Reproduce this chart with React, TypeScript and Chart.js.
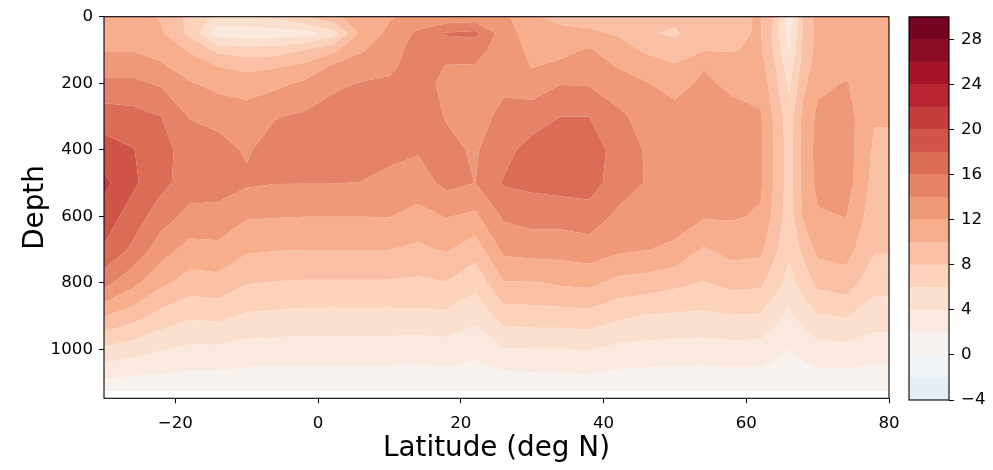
import React, { useEffect, useRef } from 'react';
import { Chart, registerables } from 'chart.js';

Chart.register(...registerables);

// ---------------- data ----------------
const LATITUDES = [-30, -26, -22, -18, -14, -10, -6, -2, 2, 6, 10, 14, 18, 22, 26, 30, 34, 38, 42, 46, 50, 54, 58, 62, 64, 66, 68, 70, 74, 78, 82];
const DEPTHS = [0, 50, 100, 150, 200, 300, 400, 500, 600, 700, 800, 900, 1000, 1125];

// one row per depth level, one value per latitude
const T_0000 = [10.8, 10.8, 9.8, 7.5, 5.5, 5.5, 6.5, 8.0, 9.5, 11.0, 11.8, 12.6, 12.6, 12.8, 12.5, 10.2, 9.6, 9.3, 9.0, 8.5, 8.8, 9.4, 9.5, 10.2, 7.8, 2.5, 8.5, 10.8, 10.8, 11.0, 11.0];
const T_0050 = [11.4, 11.3, 10.3, 7.5, 3.0, 3.0, 3.0, 3.2, 5.0, 10.5, 12.5, 14.4, 16.2, 16.5, 13.0, 11.0, 10.4, 10.3, 9.8, 8.3, 7.6, 9.6, 9.6, 10.2, 7.4, 3.2, 8.3, 10.6, 10.9, 11.0, 11.0];
const T_0100 = [11.9, 11.9, 11.3, 9.8, 7.5, 6.8, 7.0, 8.0, 9.5, 11.8, 13.0, 15.0, 14.8, 14.6, 13.2, 11.5, 11.4, 12.2, 10.9, 9.7, 9.2, 9.9, 9.9, 10.3, 7.6, 3.9, 8.6, 10.7, 11.0, 11.2, 11.2];
const T_0150 = [13.1, 13.1, 12.3, 11.0, 10.0, 9.5, 9.8, 10.5, 12.3, 12.9, 13.6, 15.0, 13.9, 13.9, 13.5, 11.9, 12.5, 13.0, 11.9, 11.0, 10.2, 11.9, 10.7, 10.8, 8.2, 4.8, 9.0, 11.0, 11.4, 11.2, 11.2];
const T_0200 = [14.5, 14.5, 13.7, 12.2, 11.3, 11.0, 11.5, 12.3, 13.6, 14.1, 14.3, 14.8, 13.5, 13.3, 13.7, 13.2, 13.9, 13.8, 13.0, 12.1, 11.2, 12.4, 11.5, 11.3, 8.7, 5.6, 9.5, 11.6, 12.1, 11.0, 11.0];
const T_0300 = [17.0, 16.7, 16.0, 13.9, 13.5, 13.0, 13.9, 14.3, 14.8, 15.2, 15.0, 14.8, 13.9, 13.4, 14.4, 14.8, 16.0, 16.0, 14.4, 13.3, 12.8, 13.0, 12.8, 12.2, 9.6, 6.8, 10.6, 12.4, 12.8, 10.2, 10.2];
const T_0400 = [18.9, 18.1, 16.8, 15.0, 14.6, 13.8, 14.8, 15.0, 15.2, 15.3, 14.5, 14.2, 14.4, 13.8, 15.2, 17.0, 17.2, 17.0, 15.3, 13.8, 13.3, 13.2, 13.1, 12.4, 9.8, 7.1, 10.8, 12.6, 13.0, 9.6, 9.6];
const T_0500 = [20.5, 18.4, 16.6, 15.0, 14.9, 14.3, 14.05, 14.05, 14.05, 13.95, 13.5, 13.0, 14.6, 13.98, 16.2, 16.5, 16.8, 16.9, 15.0, 13.9, 13.3, 13.2, 13.1, 12.3, 9.7, 7.1, 10.7, 12.5, 12.9, 9.2, 9.2];
const T_0600 = [19.1, 17.1, 14.9, 13.4, 13.3, 12.2, 12.1, 12.02, 12.02, 12.02, 12.05, 11.4, 12.1, 11.6, 14.3, 14.8, 14.8, 15.1, 13.6, 13.0, 12.7, 12.2, 12.2, 11.8, 9.4, 6.9, 10.3, 11.8, 12.05, 8.8, 8.8];
const T_0700 = [17.8, 15.6, 12.9, 11.3, 11.5, 10.3, 10.1, 10.02, 10.02, 10.02, 10.02, 9.6, 10.2, 8.9, 12.5, 12.8, 12.8, 13.1, 12.4, 12.05, 11.7, 9.8, 10.7, 10.5, 8.45, 6.4, 8.5, 10.6, 10.8, 8.2, 8.2];
const T_0800 = [14.7, 12.6, 10.5, 9.1, 9.3, 8.1, 7.9, 7.8, 7.8, 7.8, 7.8, 7.6, 7.9, 6.6, 9.9, 9.8, 10.3, 10.5, 9.4, 9.1, 8.5, 7.9, 8.6, 8.4, 6.85, 5.3, 6.9, 8.5, 9.1, 6.6, 6.6];
const T_0900 = [10.1, 8.9, 7.3, 6.3, 6.5, 5.7, 5.6, 5.4, 5.4, 5.4, 5.4, 5.5, 5.5, 4.6, 6.9, 7.1, 7.1, 7.3, 6.4, 5.9, 5.7, 5.6, 5.9, 5.8, 4.7, 3.6, 4.75, 5.9, 6.1, 5.1, 5.1];
const T_1000 = [5.6, 4.9, 4.1, 3.6, 3.6, 3.2, 3.1, 3.05, 3.05, 3.05, 3.05, 2.9, 3.1, 2.6, 3.9, 3.95, 3.95, 4.1, 3.5, 3.3, 3.2, 3.05, 3.3, 3.2, 2.6, 1.98, 2.64, 3.3, 3.4, 2.8, 2.8];
const T_1125 = [0.6, 0.4, 0.5, 0.5, 0.5, 0.4, 0.4, 0.4, 0.4, 0.4, 0.4, 0.4, 0.5, 0.3, 0.3, 0.4, 0.5, 0.5, 0.4, 0.3, 0.3, 0.3, 0.3, 0.4, 0.45, 0.5, 0.45, 0.4, 0.4, 0.5, 0.5];

const FIELD = [T_0000, T_0050, T_0100, T_0150, T_0200, T_0300, T_0400, T_0500, T_0600, T_0700, T_0800, T_0900, T_1000, T_1125];

const LEVELS = [-4, -2, 0, 2, 4, 6, 8, 10, 12, 14, 16, 18, 20, 22, 24, 26, 28, 30];
const X_TICKS = [-20, 0, 20, 40, 60, 80];
const Y_TICKS = [0, 200, 400, 600, 800, 1000];
const CB_TICKS = [-4, 0, 4, 8, 12, 16, 20, 24, 28];

// ---------------- colours (RdBu_r, centred norm) ----------------
const RDBU = ['#053061', '#2166ac', '#4393c3', '#92c5de', '#d1e5f0', '#f7f7f7', '#fddbc7', '#f4a582', '#d6604d', '#b2182b', '#67001f'];
const NORM_MIN = -30;
const NORM_MAX = 30;
function hexRgb(h: string) {
  return [parseInt(h.slice(1, 3), 16), parseInt(h.slice(3, 5), 16), parseInt(h.slice(5, 7), 16)];
}
function rdbuR(t: number) {
  const tt = Math.max(0, Math.min(1, t));
  const p = tt * 10;
  const i = Math.min(9, Math.floor(p));
  const f = p - i;
  const a = hexRgb(RDBU[i]);
  const b = hexRgb(RDBU[i + 1]);
  const c = a.map((av, k) => Math.round(av + (b[k] - av) * f));
  return `rgb(${c[0]},${c[1]},${c[2]})`;
}
const BANDS = LEVELS.slice(0, -1).map((lo, k) => {
  const hi = LEVELS[k + 1];
  return { lo, hi, color: rdbuR(((lo + hi) / 2 - NORM_MIN) / (NORM_MAX - NORM_MIN)) };
});

const FONT = 'DejaVu Sans';
const fmt = (v: any) => {
  const n = Number(v);
  return n < 0 ? '\u2212' + Math.abs(n) : String(n);
};

// ---------------- contour plugin ----------------
function clipPoly(poly: any[], level: number, above: boolean) {
  const out: any[] = [];
  const n = poly.length;
  for (let k = 0; k < n; k++) {
    const a = poly[k];
    const b = poly[(k + 1) % n];
    const ina = above ? a.v >= level : a.v <= level;
    const inb = above ? b.v >= level : b.v <= level;
    if (ina) out.push(a);
    if (ina !== inb) {
      const t = (level - a.v) / (b.v - a.v);
      out.push({ x: a.x + t * (b.x - a.x), y: a.y + t * (b.y - a.y), v: level });
    }
  }
  return out;
}

const contourPlugin = {
  id: 'contourf',
  beforeDatasetsDraw(chart: any) {
    const { ctx, chartArea, scales } = chart;
    const xs = LATITUDES.map((v) => scales.x.getPixelForValue(v));
    const ys = DEPTHS.map((v) => scales.y.getPixelForValue(v));
    ctx.save();
    ctx.beginPath();
    ctx.rect(chartArea.left, chartArea.top, chartArea.right - chartArea.left, chartArea.bottom - chartArea.top);
    ctx.clip();
    for (const band of BANDS) {
      ctx.beginPath();
      let any = false;
      for (let j = 0; j < DEPTHS.length - 1; j++) {
        for (let i = 0; i < LATITUDES.length - 1; i++) {
          const quad = [
            { x: xs[i], y: ys[j], v: FIELD[j][i] },
            { x: xs[i + 1], y: ys[j], v: FIELD[j][i + 1] },
            { x: xs[i + 1], y: ys[j + 1], v: FIELD[j + 1][i + 1] },
            { x: xs[i], y: ys[j + 1], v: FIELD[j + 1][i] },
          ];
          let p = clipPoly(quad, band.lo, true);
          if (p.length < 3) continue;
          p = clipPoly(p, band.hi, false);
          if (p.length < 3) continue;
          ctx.moveTo(p[0].x, p[0].y);
          for (let k = 1; k < p.length; k++) ctx.lineTo(p[k].x, p[k].y);
          ctx.closePath();
          any = true;
        }
      }
      if (any) {
        ctx.fillStyle = band.color;
        ctx.fill();
      }
    }
    ctx.restore();
  },
};

const framePlugin = {
  id: 'frame',
  afterDraw(chart: any) {
    const { ctx, chartArea } = chart;
    ctx.save();
    ctx.strokeStyle = '#000';
    ctx.lineWidth = 1.1;
    ctx.strokeRect(chartArea.left, chartArea.top, chartArea.right - chartArea.left, chartArea.bottom - chartArea.top);
    ctx.restore();
  },
};

export default function App() {
  const mainRef = useRef<HTMLCanvasElement>(null);
  const barRef = useRef<HTMLCanvasElement>(null);

  useEffect(() => {
    const tickFont = { family: FONT, size: 16.67 };
    const main = new Chart(mainRef.current as HTMLCanvasElement, {
      type: 'scatter',
      data: { datasets: [{ data: [], pointRadius: 0 }] },
      options: {
        responsive: false,
        animation: false,
        devicePixelRatio: 1,
        layout: { padding: { top: 16.7, right: 16, left: 0, bottom: 0 } },
        plugins: { legend: { display: false }, tooltip: { enabled: false } },
        scales: {
          x: {
            type: 'linear',
            min: -30,
            max: 80,
            afterBuildTicks: (s: any) => {
              s.ticks = X_TICKS.map((v) => ({ value: v }));
            },
            afterFit: (s: any) => {
              s.height = 71.7;
              s.paddingLeft = 0;
              s.paddingRight = 0;
            },
            grid: { drawOnChartArea: false, drawTicks: true, tickLength: 5, color: '#000', lineWidth: 1 },
            border: { display: false },
            ticks: { color: '#000', font: tickFont, padding: 10, maxRotation: 0, autoSkip: false, callback: fmt },
            title: { display: true, text: 'Latitude (deg N)', color: '#000', font: { family: FONT, size: 27.8 }, padding: { top: 0, bottom: 5 } },
          },
          y: {
            type: 'linear',
            reverse: true,
            min: 0,
            max: 1147,
            afterBuildTicks: (s: any) => {
              s.ticks = Y_TICKS.map((v) => ({ value: v }));
            },
            afterFit: (s: any) => {
              s.width = 104;
              s.paddingTop = 0;
              s.paddingBottom = 0;
            },
            grid: { drawOnChartArea: false, drawTicks: true, tickLength: 5, color: '#000', lineWidth: 1 },
            border: { display: false },
            ticks: { color: '#000', font: tickFont, padding: 6, autoSkip: false, callback: fmt },
            title: { display: true, text: 'Depth', color: '#000', font: { family: FONT, size: 27.8 }, padding: { top: 19, bottom: 0 } },
          },
        },
      },
      plugins: [contourPlugin, framePlugin],
    } as any);

    const bar = new Chart(barRef.current as HTMLCanvasElement, {
      type: 'bar',
      data: {
        labels: [''],
        datasets: BANDS.map((b) => ({
          data: [[b.lo, b.hi]],
          backgroundColor: b.color,
          borderWidth: 0,
          barPercentage: 1,
          categoryPercentage: 1,
        })),
      },
      options: {
        responsive: false,
        animation: false,
        devicePixelRatio: 1,
        layout: { padding: { top: 16.8, left: 14, right: 0, bottom: 70 } },
        plugins: { legend: { display: false }, tooltip: { enabled: false } },
        scales: {
          x: { display: false, stacked: true },
          y: {
            position: 'right',
            min: -4,
            max: 30,
            afterBuildTicks: (s: any) => {
              s.ticks = CB_TICKS.map((v) => ({ value: v }));
            },
            afterFit: (s: any) => {
              s.width = 44;
              s.paddingTop = 0;
              s.paddingBottom = 0;
            },
            grid: { drawOnChartArea: false, drawTicks: true, tickLength: 5, color: '#000', lineWidth: 1 },
            border: { display: false },
            ticks: { color: '#000', font: tickFont, padding: 7, autoSkip: false, callback: fmt },
          },
        },
      },
      plugins: [framePlugin],
    } as any);

    return () => {
      main.destroy();
      bar.destroy();
    };
  }, []);

  return (
    <div style={{ position: 'fixed', left: 0, top: 0, width: 993, height: 470, background: '#fff' }}>
      <canvas ref={mainRef} width={905} height={470} style={{ position: 'absolute', left: 0, top: 0, width: 905, height: 470 }} />
      <canvas ref={barRef} width={98} height={470} style={{ position: 'absolute', left: 895, top: 0, width: 98, height: 470 }} />
    </div>
  );
}
